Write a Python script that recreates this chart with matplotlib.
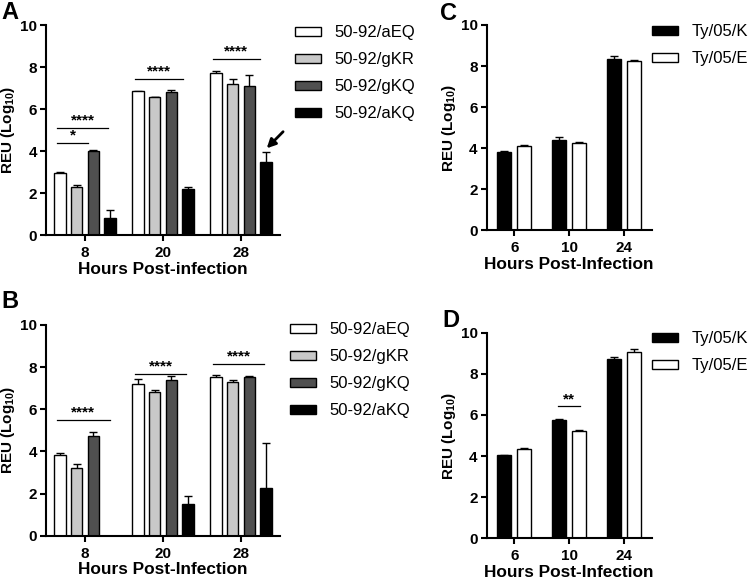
import numpy as np
import matplotlib
matplotlib.use("Agg")
import matplotlib.pyplot as plt
from matplotlib.patches import Patch

plt.rcParams["font.family"] = ["Liberation Sans", "DejaVu Sans"]
plt.rcParams["mathtext.fontset"] = "custom"
plt.rcParams["mathtext.rm"] = "Liberation Sans:bold"
plt.rcParams["mathtext.bf"] = "Liberation Sans:bold"
plt.rcParams["mathtext.default"] = "bf"

W, H = 750, 581

# Panels A/B: 50-92 viruses
hours_ab = ["8", "20", "28"]
strains_ab = ["50-92/aEQ", "50-92/gKR", "50-92/gKQ", "50-92/aKQ"]
colors_ab = ["white", "#c8c8c8", "#505050", "black"]

a_mean = [[2.95, 6.85, 7.70],
          [2.30, 6.58, 7.17],
          [4.02, 6.82, 7.10],
          [0.82, 2.20, 3.50]]
a_err = [[0.05, 0.03, 0.12],
         [0.10, 0.01, 0.25],
         [0.03, 0.10, 0.50],
         [0.38, 0.08, 0.45]]

b_mean = [[3.82, 7.20, 7.55],
          [3.20, 6.83, 7.30],
          [4.72, 7.38, 7.55],
          [0.00, 1.52, 2.27]]
b_err = [[0.12, 0.25, 0.08],
         [0.22, 0.10, 0.08],
         [0.20, 0.20, 0.03],
         [0.00, 0.38, 2.15]]

# Panels C/D: Ty/05 viruses
hours_cd = ["6", "10", "24"]
strains_cd = ["Ty/05/K", "Ty/05/E"]
colors_cd = ["black", "white"]

c_mean = [[3.83, 4.40, 8.35],
          [4.10, 4.23, 8.23]]
c_err = [[0.03, 0.12, 0.15],
         [0.05, 0.06, 0.06]]

d_mean = [[4.03, 5.76, 8.73],
          [4.33, 5.21, 9.05]]
d_err = [[0.02, 0.03, 0.08],
         [0.08, 0.04, 0.15]]

# significance bars: (x_start, x_end, y, label)
sig_a = [(-0.36, 0.30, 5.1, "****"), (-0.36, 0.04, 4.4, "*"),
         (0.64, 1.26, 7.43, "****"), (1.64, 2.24, 8.37, "****")]
sig_b = [(-0.36, 0.32, 5.5, "****"), (0.64, 1.30, 7.67, "****"),
         (1.64, 2.30, 8.15, "****")]
sig_d = [(0.80, 1.20, 6.41, "**")]


def style_axis(ax, ticks, xlabel):
    ax.set_ylim(0, 10)
    ax.set_yticks(np.arange(0, 11, 2))
    ax.set_xlim(-0.5, 2.5)
    ax.set_xticks(range(3))
    ax.set_xticklabels(ticks)
    for s in ["top", "right"]:
        ax.spines[s].set_visible(False)
    for s in ["left", "bottom"]:
        ax.spines[s].set_linewidth(1.5)
    ax.tick_params(width=1.5, length=4, labelsize=11, pad=2.5)
    ax.tick_params(axis="x", pad=4)
    for lab in ax.get_xticklabels() + ax.get_yticklabels():
        lab.set_fontweight("bold")
    ax.set_xlabel(xlabel, fontsize=12.4, fontweight="bold", labelpad=1)
    ax.set_ylabel("REU (Log$_{10}$)", fontsize=11, fontweight="bold",
                  labelpad=2)


def draw_bars(ax, means, errs, colors, width, step):
    n = len(means)
    x = np.arange(3)
    for i in range(n):
        off = (i - (n - 1) / 2) * step
        ax.bar(x + off, means[i], width, color=colors[i], edgecolor="black",
               linewidth=1.0, zorder=2)
        ax.errorbar(x + off, means[i], yerr=errs[i], fmt="none",
                    ecolor="black", elinewidth=1.0, capsize=3, capthick=1.0,
                    zorder=1)


def add_legend(ax, colors, labels, px, py):
    handles = [Patch(facecolor=c, edgecolor="black", linewidth=1.0, label=l)
               for c, l in zip(colors, labels)]
    ax.legend(handles=handles, loc="upper left",
              bbox_to_anchor=(px / W, 1 - py / H),
              bbox_transform=ax.figure.transFigure,
              frameon=False, fontsize=12, handlelength=1.55,
              handleheight=0.45, labelspacing=0.72, handletextpad=0.8,
              borderpad=0, borderaxespad=0)


def draw_sig(ax, sigs):
    for x0, x1, y, lab in sigs:
        ax.plot([x0, x1], [y, y], color="black", lw=0.9)
        ax.text((x0 + x1) / 2, y + 0.02, lab, ha="center", va="bottom",
                fontsize=11, fontweight="bold")


fig = plt.figure(figsize=(7.5, 5.81), dpi=100)
ax_a = fig.add_axes([0.0613, 0.5955, 0.312, 0.3614])
ax_b = fig.add_axes([0.0613, 0.078, 0.312, 0.3627])
ax_c = fig.add_axes([0.649, 0.604, 0.22, 0.353])
ax_d = fig.add_axes([0.649, 0.0735, 0.22, 0.354])

draw_bars(ax_a, a_mean, a_err, colors_ab, 0.147, 0.214)
draw_bars(ax_b, b_mean, b_err, colors_ab, 0.147, 0.214)
draw_bars(ax_c, c_mean, c_err, colors_cd, 0.255, 0.372)
draw_bars(ax_d, d_mean, d_err, colors_cd, 0.255, 0.372)

add_legend(ax_a, colors_ab, strains_ab, 295, 25)
add_legend(ax_b, colors_ab, strains_ab, 290, 322)
add_legend(ax_c, colors_cd, strains_cd, 652, 24)
add_legend(ax_d, colors_cd, strains_cd, 652, 331)

draw_sig(ax_a, sig_a)
draw_sig(ax_b, sig_b)
draw_sig(ax_d, sig_d)

ax_a.annotate("", xy=(2.33, 4.13), xytext=(2.54, 4.92), annotation_clip=False,
              arrowprops=dict(arrowstyle="-|>", color="black", lw=2,
                              mutation_scale=13, shrinkA=0, shrinkB=0))

style_axis(ax_a, hours_ab, "Hours Post-infection")
style_axis(ax_b, hours_ab, "Hours Post-Infection")
style_axis(ax_c, hours_cd, "Hours Post-Infection")
style_axis(ax_d, hours_cd, "Hours Post-Infection")

for letter, px, py in [("A", 1, 1), ("B", 1, 290), ("C", 440, 2), ("D", 442, 309)]:
    fig.text(px / W, 1 - py / H, letter, fontsize=17, fontweight="bold",
             ha="left", va="top")

fig.savefig("out.png", dpi=100)
